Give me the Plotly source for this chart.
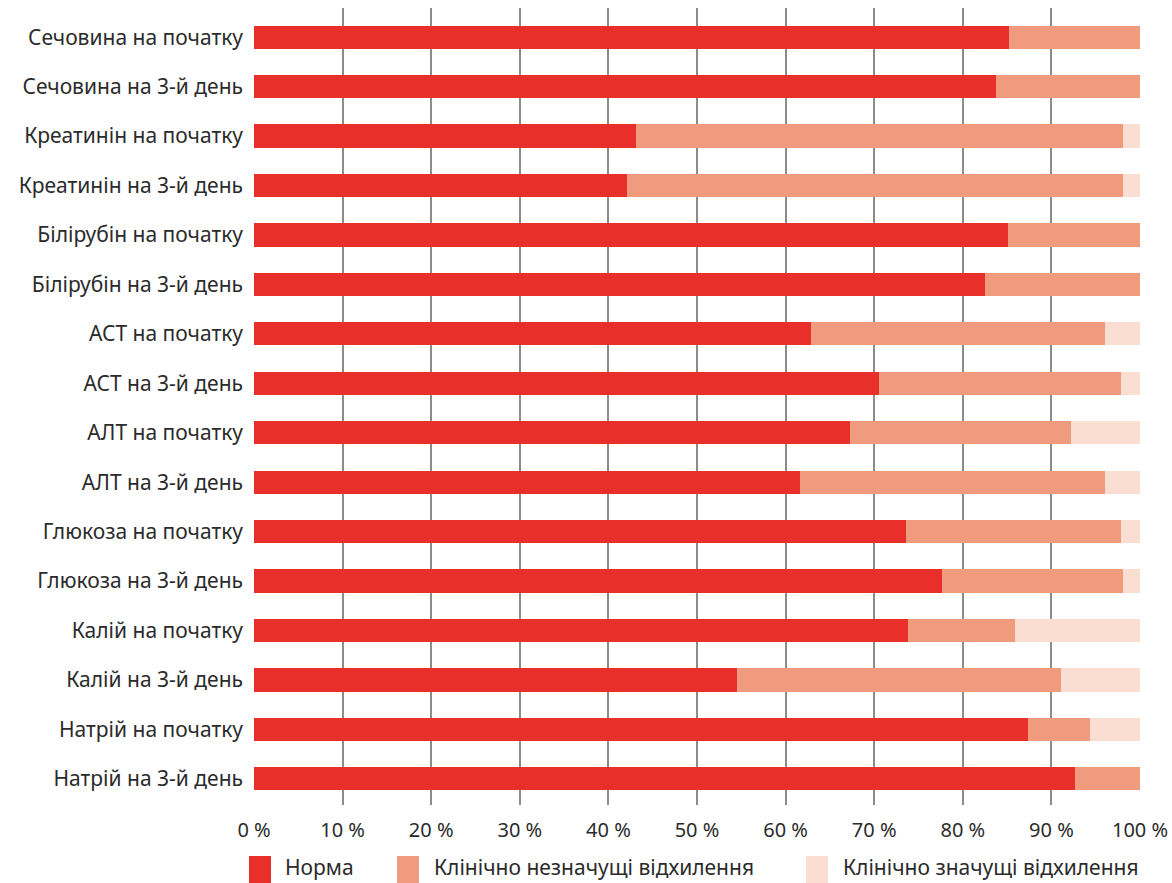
import plotly.graph_objects as go

# Laboratory indicators (top to bottom)
categories = [
    "Сечовина на початку", "Сечовина на 3-й день",
    "Креатинін на початку", "Креатинін на 3-й день",
    "Білірубін на початку", "Білірубін на 3-й день",
    "АСТ на початку", "АСТ на 3-й день",
    "АЛТ на початку", "АЛТ на 3-й день",
    "Глюкоза на початку", "Глюкоза на 3-й день",
    "Калій на початку", "Калій на 3-й день",
    "Натрій на початку", "Натрій на 3-й день",
]

# Share of patients, %
norm = [85.2, 83.8, 43.1, 42.1, 85.1, 82.5, 62.9, 70.5,
        67.3, 61.6, 73.6, 77.7, 73.8, 54.5, 87.4, 92.7]
minor_dev = [14.8, 16.2, 55.0, 56.0, 14.9, 17.5, 33.1, 27.4,
             24.9, 34.5, 24.3, 20.4, 12.1, 36.6, 7.0, 7.3]
major_dev = [0.0, 0.0, 1.9, 1.9, 0.0, 0.0, 4.0, 2.1,
             7.8, 3.9, 2.1, 1.9, 14.1, 8.9, 5.6, 0.0]

series_names = ["Норма", "Клінічно незначущі відхилення", "Клінічно значущі відхилення"]
series_colors = ["#E92F29", "#F19B7E", "#F9DED1"]

tick_values = [0, 10, 20, 30, 40, 50, 60, 70, 80, 90, 100]
tick_labels = ["0 %", "10 %", "20 %", "30 %", "40 %", "50 %",
               "60 %", "70 %", "80 %", "90 %", "100 %"]

FONT = "Noto Sans"
TEXT_COLOR = "#2b2b2b"

fig = go.Figure()
for name, vals, color in zip(series_names, [norm, minor_dev, major_dev], series_colors):
    fig.add_trace(go.Bar(
        y=categories, x=vals, name=name, orientation="h",
        marker=dict(color=color, line=dict(width=0)),
        width=0.47, showlegend=False,
    ))

# Plot area in pixels
W, H = 1172, 883
L, R, T, B = 254, 32, 8, 78
pw, ph = W - L - R, H - T - B

def px_x(x):
    return (x - L) / pw

def px_y(y):
    return (H - B - y) / ph

# Custom legend: tall swatches and labels below the axis
legend_items = [(249, 283), (397, 432), (806, 841)]
shapes = []
annotations = []
for (sx, tx), name, color in zip(legend_items, series_names, series_colors):
    shapes.append(dict(type="rect", xref="paper", yref="paper",
                       x0=px_x(sx), x1=px_x(sx + 22),
                       y0=px_y(883), y1=px_y(856),
                       fillcolor=color, line=dict(width=0)))
    annotations.append(dict(xref="paper", yref="paper", x=px_x(tx), y=px_y(867),
                            xanchor="left", yanchor="middle", showarrow=False,
                            text=name, font=dict(family=FONT, size=21, color=TEXT_COLOR)))

fig.update_layout(
    width=W, height=H,
    margin=dict(l=L, r=R, t=T, b=B, pad=0, autoexpand=False),
    paper_bgcolor="white", plot_bgcolor="white",
    barmode="stack", bargap=0.5,
    font=dict(family=FONT, size=19, color=TEXT_COLOR),
    xaxis=dict(range=[0, 100], tickvals=tick_values, ticktext=tick_labels,
               showgrid=True, gridcolor="#8c8c8c", gridwidth=1.5,
               zeroline=False, showline=False, ticks="", ticklabelstandoff=11,
               tickfont=dict(family=FONT, size=20, color=TEXT_COLOR),
               automargin=False, layer="below traces"),
    yaxis=dict(range=[15.53, -0.59], showgrid=False, zeroline=False,
               showline=False, ticks="", ticklabelstandoff=10, automargin=False,
               tickfont=dict(family=FONT, size=21, color=TEXT_COLOR)),
    shapes=shapes,
    annotations=annotations,
)

fig.write_html("out.html")
